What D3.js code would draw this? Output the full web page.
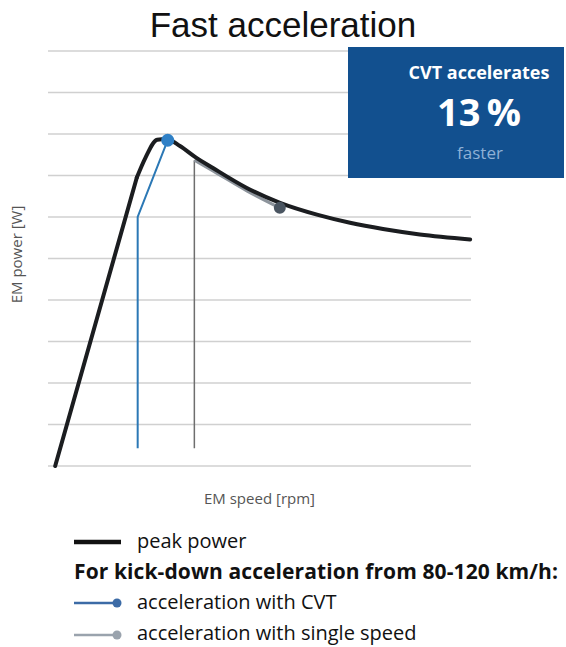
<!DOCTYPE html>
<html>
<head>
<meta charset="utf-8">
<script src="https://cdn.jsdelivr.net/npm/d3@7"></script>
<style>
  html, body { margin: 0; padding: 0; background: #ffffff; }
  svg { display: block; }
</style>
</head>
<body>
<svg id="chart" width="566" height="647"></svg>
<script>
// EM peak power curve: straight rise to the knee, then rounded peak and decline
const riseSpeed = [1.7, 21.0];
const risePower = [0.0, 6.95];
const peakSpeed = [21.0, 23.0, 25.8, 28.0, 31.2, 34.75, 39.0, 47.0, 54.85, 63.8, 71.4, 79.2, 87.9, 99.8];
const peakPower = [6.95, 7.42, 7.86, 7.88, 7.71, 7.45, 7.18, 6.70, 6.34, 6.05, 5.86, 5.71, 5.58, 5.46];

// Kick-down path with CVT
const cvtSpeed = [21.2, 21.2, 28.3];
const cvtPower = [0.43, 6.0, 7.85];

// Kick-down path with single speed: vertical rise, then along the curve
const singleRiseSpeed = [34.6, 34.6];
const singleRisePower = [0.43, 7.37];
const singleSpeed = [34.6, 39.0, 47.0, 54.8];
const singlePower = [7.37, 7.11, 6.63, 6.22];

// Horizontal grid levels
const gridLevels = [0, 1, 2, 3, 4, 5, 6, 7, 8, 9, 10];

const legendItems = ["peak power", "For kick-down acceleration from 80-120 km/h:", "acceleration with CVT", "acceleration with single speed"];

const svg = d3.select("#chart");

const x = d3.scaleLinear().domain([0, 100]).range([48, 471]);
const y = d3.scaleLinear().domain([0, 10]).range([466, 51]);

// Title
svg.append("text")
  .attr("x", 283).attr("y", 37)
  .attr("text-anchor", "middle")
  .attr("font-family", "'Liberation Sans', Arial, sans-serif")
  .attr("font-size", 35)
  .attr("fill", "#111")
  .text("Fast acceleration");

// Grid
svg.append("g")
  .selectAll("line")
  .data(gridLevels)
  .join("line")
  .attr("x1", x(0)).attr("x2", x(100))
  .attr("y1", d => y(d)).attr("y2", d => y(d))
  .attr("stroke", "#d0d0d0")
  .attr("stroke-width", 1.6);

// Axis titles
svg.append("text")
  .attr("transform", `translate(22,${(y(0) + y(10)) / 2 - 4}) rotate(-90)`)
  .attr("text-anchor", "middle")
  .attr("font-family", "'Open Sans', sans-serif")
  .attr("font-size", 15)
  .attr("fill", "#555")
  .text("EM power [W]");

svg.append("text")
  .attr("x", (x(0) + x(100)) / 2).attr("y", 504)
  .attr("text-anchor", "middle")
  .attr("font-family", "'Open Sans', sans-serif")
  .attr("font-size", 15)
  .attr("fill", "#555")
  .text("EM speed [rpm]");

const pts = (xs, ys) => xs.map((v, i) => [v, ys[i]]);
const lineLin = d3.line().x(d => x(d[0])).y(d => y(d[1]));
const lineSmooth = d3.line().x(d => x(d[0])).y(d => y(d[1])).curve(d3.curveMonotoneX);

// Single speed path (under the peak curve)
svg.append("path")
  .attr("d", lineLin(pts(singleRiseSpeed, singleRisePower)))
  .attr("fill", "none").attr("stroke", "#6e6e6e").attr("stroke-width", 1.5);
svg.append("path")
  .attr("d", lineSmooth(pts(singleSpeed, singlePower)))
  .attr("fill", "none").attr("stroke", "#8d949c").attr("stroke-width", 3);

// CVT path
svg.append("path")
  .attr("d", lineLin(pts(cvtSpeed, cvtPower)))
  .attr("fill", "none").attr("stroke", "#2b78b5").attr("stroke-width", 2);

// Peak power curve
const peakG = svg.append("g")
  .attr("fill", "none").attr("stroke", "#1b1d20").attr("stroke-width", 4)
  .attr("stroke-linejoin", "round").attr("stroke-linecap", "round");
peakG.append("path").attr("d", lineLin(pts(riseSpeed, risePower)));
peakG.append("path").attr("d", lineSmooth(pts(peakSpeed, peakPower)));

// End points
svg.append("circle")
  .attr("cx", x(singleSpeed[singleSpeed.length - 1]))
  .attr("cy", y(singlePower[singlePower.length - 1]))
  .attr("r", 6).attr("fill", "#4a5561");
svg.append("circle")
  .attr("cx", x(cvtSpeed[cvtSpeed.length - 1]))
  .attr("cy", y(cvtPower[cvtPower.length - 1]))
  .attr("r", 6.5).attr("fill", "#2f80c6");

// Highlight box
const box = svg.append("g");
box.append("rect")
  .attr("x", 348).attr("y", 47).attr("width", 216).attr("height", 131)
  .attr("fill", "#12508f");
box.append("text")
  .attr("x", 479).attr("y", 79)
  .attr("text-anchor", "middle")
  .attr("font-family", "'Open Sans', sans-serif")
  .attr("font-weight", "bold").attr("font-size", 18)
  .attr("fill", "#ffffff")
  .text("CVT accelerates");
box.append("text")
  .attr("x", 479).attr("y", 126)
  .attr("text-anchor", "middle")
  .attr("font-family", "'Open Sans', sans-serif")
  .attr("font-weight", "bold").attr("font-size", 38)
  .attr("fill", "#ffffff")
  .text("13\u2009%");
box.append("text")
  .attr("x", 480).attr("y", 159)
  .attr("text-anchor", "middle")
  .attr("font-family", "'Open Sans', sans-serif")
  .attr("font-size", 17)
  .attr("fill", "#8fb1d6")
  .text("faster");

// Legend
const legend = svg.append("g").attr("font-family", "'Open Sans', sans-serif").attr("fill", "#111");
legend.append("line")
  .attr("x1", 74).attr("x2", 121).attr("y1", 542).attr("y2", 542)
  .attr("stroke", "#111").attr("stroke-width", 4.5);
legend.append("text").attr("x", 137).attr("y", 548).attr("font-size", 20).text(legendItems[0]);
legend.append("text").attr("x", 74).attr("y", 579).attr("font-size", 21)
  .attr("font-weight", "bold").attr("letter-spacing", 0.1).text(legendItems[1]);

legend.append("line")
  .attr("x1", 74).attr("x2", 117).attr("y1", 603).attr("y2", 603)
  .attr("stroke", "#3c6ba6").attr("stroke-width", 2.5);
legend.append("circle").attr("cx", 117).attr("cy", 603).attr("r", 4.5).attr("fill", "#3c6ba6");
legend.append("text").attr("x", 137).attr("y", 609).attr("font-size", 20).text(legendItems[2]);

legend.append("line")
  .attr("x1", 74).attr("x2", 117).attr("y1", 635).attr("y2", 635)
  .attr("stroke", "#9aa3ad").attr("stroke-width", 2.5);
legend.append("circle").attr("cx", 117).attr("cy", 635).attr("r", 4.5).attr("fill", "#9aa3ad");
legend.append("text").attr("x", 137).attr("y", 640).attr("font-size", 20).text(legendItems[3]);
</script>
</body>
</html>
